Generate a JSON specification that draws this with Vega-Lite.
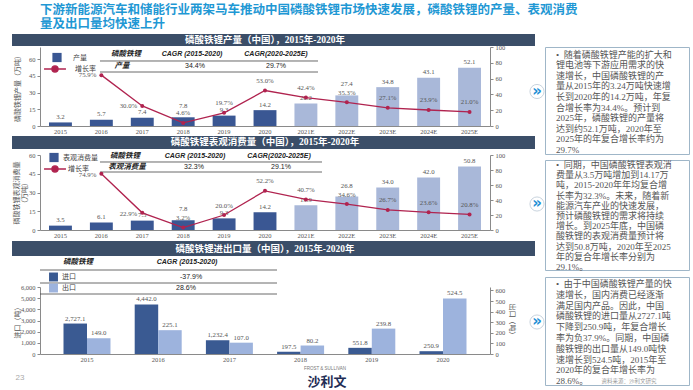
{
"$schema": "https://vega.github.io/schema/vega-lite/v6.json",
"background": "white",
"padding": {"left": 12, "top": 3, "right": 0, "bottom": 0},
"title": {"text": ["下游新能源汽车和储能行业两架马车推动中国磷酸铁锂市场快速发展，磷酸铁锂的产量、表观消费", "量及出口量均快速上升"], "anchor": "start", "font": "Noto Sans CJK SC", "fontSize": 12.5, "fontWeight": "bold", "color": "#1f98d4", "lineHeight": 14.5, "offset": 3, "frame": "group"},
"datasets": {
"p1": [
{"year": "2015", "value": 3.2, "growth": null, "s1": "产量", "s2": "增长率"},
{"year": "2016", "value": 5.7, "growth": 0.759, "s1": "产量", "s2": "增长率"},
{"year": "2017", "value": 7.4, "growth": 0.300, "s1": "产量", "s2": "增长率"},
{"year": "2018", "value": 7.8, "growth": 0.046, "s1": "产量", "s2": "增长率"},
{"year": "2019", "value": 9.3, "growth": 0.197, "s1": "产量", "s2": "增长率"},
{"year": "2020", "value": 14.2, "growth": 0.530, "s1": "产量", "s2": "增长率"},
{"year": "2021E", "value": 20.2, "growth": 0.424, "s1": "产量", "s2": "增长率"},
{"year": "2022E", "value": 27.4, "growth": 0.353, "s1": "产量", "s2": "增长率"},
{"year": "2023E", "value": 34.8, "growth": 0.271, "s1": "产量", "s2": "增长率"},
{"year": "2024E", "value": 43.1, "growth": 0.239, "s1": "产量", "s2": "增长率"},
{"year": "2025E", "value": 52.1, "growth": 0.210, "s1": "产量", "s2": "增长率"}
],
"p2": [
{"year": "2015", "value": 3.5, "growth": null, "s1": "表观消费量", "s2": "增长率"},
{"year": "2016", "value": 6.1, "growth": 0.749, "s1": "表观消费量", "s2": "增长率"},
{"year": "2017", "value": 7.5, "growth": 0.229, "s1": "表观消费量", "s2": "增长率"},
{"year": "2018", "value": 7.8, "growth": 0.032, "s1": "表观消费量", "s2": "增长率"},
{"year": "2019", "value": 9.3, "growth": 0.200, "s1": "表观消费量", "s2": "增长率"},
{"year": "2020", "value": 14.2, "growth": 0.522, "s1": "表观消费量", "s2": "增长率"},
{"year": "2021E", "value": 19.9, "growth": 0.407, "s1": "表观消费量", "s2": "增长率"},
{"year": "2022E", "value": 26.8, "growth": 0.346, "s1": "表观消费量", "s2": "增长率"},
{"year": "2023E", "value": 34.0, "growth": 0.267, "s1": "表观消费量", "s2": "增长率"},
{"year": "2024E", "value": 42.0, "growth": 0.236, "s1": "表观消费量", "s2": "增长率"},
{"year": "2025E", "value": 50.8, "growth": 0.208, "s1": "表观消费量", "s2": "增长率"}
],
"p3": [
{"year": "2015", "type": "进口", "value": 2727.1},
{"year": "2015", "type": "出口", "value": 149.0},
{"year": "2016", "type": "进口", "value": 4442.0},
{"year": "2016", "type": "出口", "value": 225.1},
{"year": "2017", "type": "进口", "value": 1232.4},
{"year": "2017", "type": "出口", "value": 107.0},
{"year": "2018", "type": "进口", "value": 197.5},
{"year": "2018", "type": "出口", "value": 80.2},
{"year": "2019", "type": "进口", "value": 551.8},
{"year": "2019", "type": "出口", "value": 239.8},
{"year": "2020", "type": "进口", "value": 250.9},
{"year": "2020", "type": "出口", "value": 524.5}
],
"a1": [{"t": "磷酸铁锂产量（中国），2015年-2020年"}, {"t": "磷酸铁锂"}, {"t": "CAGR (2015-2020)"}, {"t": "CAGR(2020-2025E)"}, {"t": "产量"}, {"t": "34.4%"}, {"t": "29.7%"}],
"a2": [{"t": "磷酸铁锂表观消费量（中国），2015年-2020年"}, {"t": "磷酸铁锂"}, {"t": "CAGR (2015-2020)"}, {"t": "CAGR(2020-2025E)"}, {"t": "表观消费量"}, {"t": "32.3%"}, {"t": "29.1%"}],
"a3": [{"t": "磷酸铁锂进出口量（中国），2015年-2020年"}, {"t": "磷酸铁锂"}, {"t": "CAGR (2015-2020)"}, {"t": "-37.9%"}, {"t": "28.6%"}]
},
"config": {
"view": {"stroke": null},
"font": "Noto Sans CJK SC",
"axis": {"labelFont": "Liberation Serif", "labelFontSize": 6.5, "labelColor": "#555", "domainColor": "#8a8a8a", "tickColor": "#8a8a8a", "grid": false, "titleFont": "Noto Sans CJK SC", "titleFontSize": 7, "titleFontWeight": "normal", "titleColor": "#555", "tickSize": 3, "labelPadding": 2, "titleLineHeight": 8},
"axisX": {"ticks": false, "labelAngle": 0},
"legend": {"labelFont": "Noto Sans CJK SC", "labelFontSize": 7, "labelColor": "#444", "padding": 0},
"text": {"font": "Liberation Serif", "fontSize": 6.8, "color": "#555"}
},
"spacing": -8,
"hconcat": [
{
"spacing": 1,
"resolve": {"scale": {"fill": "independent", "stroke": "independent"}},
"vconcat": [
{
 "width": 450, "height": 79,
 "data": {"name": "p1"},
 "layer": [
  {
   "data": {"name": "a1"},
   "layer": [
    {"transform": [{"filter": "datum.t == '磷酸铁锂产量（中国），2015年-2020年'"}], "mark": {"type": "rect", "fill": "#3b4e68"},
     "encoding": {"x": {"datum": -0.0622, "type": "quantitative", "scale": {"domain": [0, 1], "nice": false, "zero": false}, "axis": null}, "x2": {"datum": 1.1},
      "y": {"datum": 1.1646, "type": "quantitative", "scale": {"domain": [0, 1], "nice": false, "zero": false}, "axis": null}, "y2": {"datum": 1.0127}}},
    {"transform": [{"filter": "datum.t == '磷酸铁锂产量（中国），2015年-2020年'"}], "mark": {"type": "text", "color": "white", "fontSize": 9.5, "fontWeight": "bold", "font": "Liberation Serif, Noto Sans CJK SC"},
     "encoding": {"x": {"datum": 0.5, "type": "quantitative"}, "y": {"datum": 1.0886, "type": "quantitative"}, "text": {"field": "t"}}},
    {"transform": [{"filter": "datum.t == '磷酸铁锂产量（中国），2015年-2020年'"}], "mark": {"type": "rule", "color": "#444", "strokeWidth": 0.8},
     "encoding": {"x": {"datum": 0.1333, "type": "quantitative"}, "x2": {"datum": 0.6178}, "y": {"datum": 0.8228, "type": "quantitative"}}},
    {"transform": [{"filter": "datum.t == '磷酸铁锂产量（中国），2015年-2020年'"}], "mark": {"type": "rule", "color": "#444", "strokeWidth": 0.8},
     "encoding": {"x": {"datum": 0.1333, "type": "quantitative"}, "x2": {"datum": 0.6178}, "y": {"datum": 0.6835, "type": "quantitative"}}},
    {"transform": [{"filter": "datum.t == '磷酸铁锂'"}], "mark": {"type": "text", "font": "Noto Sans CJK SC", "fontSize": 7.5, "fontWeight": "bold", "fontStyle": "italic", "color": "#222"},
     "encoding": {"x": {"datum": 0.1911, "type": "quantitative"}, "y": {"datum": 0.9114, "type": "quantitative"}, "text": {"field": "t"}}},
    {"transform": [{"filter": "datum.t == 'CAGR (2015-2020)'"}], "mark": {"type": "text", "font": "Liberation Sans", "fontSize": 7, "fontWeight": "bold", "fontStyle": "italic", "color": "#222"},
     "encoding": {"x": {"datum": 0.3378, "type": "quantitative"}, "y": {"datum": 0.9114, "type": "quantitative"}, "text": {"field": "t"}}},
    {"transform": [{"filter": "datum.t == 'CAGR(2020-2025E)'"}], "mark": {"type": "text", "font": "Liberation Sans", "fontSize": 7, "fontWeight": "bold", "fontStyle": "italic", "color": "#222"},
     "encoding": {"x": {"datum": 0.5244, "type": "quantitative"}, "y": {"datum": 0.9114, "type": "quantitative"}, "text": {"field": "t"}}},
    {"transform": [{"filter": "datum.t == '产量'"}], "mark": {"type": "text", "font": "Noto Sans CJK SC", "fontSize": 7.5, "fontWeight": "bold", "fontStyle": "italic", "color": "#222"},
     "encoding": {"x": {"datum": 0.1822, "type": "quantitative"}, "y": {"datum": 0.7595, "type": "quantitative"}, "text": {"field": "t"}}},
    {"transform": [{"filter": "datum.t == '34.4%'"}], "mark": {"type": "text", "font": "Liberation Sans", "fontSize": 7, "color": "#222"},
     "encoding": {"x": {"datum": 0.3444, "type": "quantitative"}, "y": {"datum": 0.7595, "type": "quantitative"}, "text": {"field": "t"}}},
    {"transform": [{"filter": "datum.t == '29.7%'"}], "mark": {"type": "text", "font": "Liberation Sans", "fontSize": 7, "color": "#222"},
     "encoding": {"x": {"datum": 0.5244, "type": "quantitative"}, "y": {"datum": 0.7595, "type": "quantitative"}, "text": {"field": "t"}}}
   ]
  },
  {
   "encoding": {"x": {"field": "year", "type": "nominal", "title": null, "sort": null, "scale": {"domain": ["2015","2016","2017","2018","2019","2020","2021E","2022E","2023E","2024E","2025E"], "paddingInner": 0.44, "paddingOuter": 0.22}, "axis": {"orient": "bottom"}}},
   "layer": [
    {
     "encoding": {"y": {"field": "value", "type": "quantitative", "scale": {"domain": [0, 70.75], "nice": false}, "axis": {"orient": "left", "values": [0, 15, 30, 45, 60], "title": "磷酸铁锂产量（万吨）", "titlePadding": 8}}},
     "layer": [
      {"transform": [{"filter": "indexof(datum.year,'E') < 0"}], "mark": {"type": "bar"},
       "encoding": {"fill": {"field": "s1", "type": "nominal", "scale": {"range": ["#3a5793"]}, "legend": {"title": null, "orient": "none", "legendX": 12, "legendY": 5.5, "symbolType": "square", "symbolSize": 85, "labelOffset": 11, "symbolStrokeWidth": 0}}}},
      {"transform": [{"filter": "indexof(datum.year,'E') >= 0"}], "mark": {"type": "bar", "fill": "#a9b8d9"}},
      {"transform": [{"filter": "datum.year != '2018' && datum.year != '2022E'"}], "mark": {"type": "text", "dy": -5.5}, "encoding": {"text": {"field": "value", "format": ".1f"}}},
      {"transform": [{"filter": "datum.year == '2018' || datum.year == '2022E'"}], "mark": {"type": "text", "dy": -11.5}, "encoding": {"text": {"field": "value", "format": ".1f"}}}
     ]
    },
    {
     "transform": [{"filter": "isValid(datum.growth)"}],
     "encoding": {"y": {"field": "growth", "type": "quantitative", "scale": {"domain": [0, 1.179], "nice": false}, "axis": null}},
     "layer": [
      {"mark": {"type": "line", "strokeWidth": 1.3}, "encoding": {"stroke": {"field": "s2", "type": "nominal", "scale": {"range": ["#b0234f"]}, "legend": {"title": null, "orient": "none", "legendX": 3, "legendY": 10, "symbolType": "M-1,0L1,0M0.28,0A0.28,0.28,0,1,1,-0.28,0A0.28,0.28,0,1,1,0.28,0", "symbolSize": 480, "symbolStrokeWidth": 1.3, "symbolFillColor": "#b0234f", "labelOffset": 8}}}},
      {"mark": {"type": "point", "filled": true, "size": 16, "color": "#b0234f", "opacity": 1}},
      {"transform": [{"filter": "datum.year != '2016' && datum.year != '2017'"}], "mark": {"type": "text", "dy": -9.5}, "encoding": {"text": {"field": "growth", "format": ".1%"}}},
      {"transform": [{"filter": "datum.year == '2016' || datum.year == '2017'"}], "mark": {"type": "text", "align": "right", "dx": -5, "dy": 0}, "encoding": {"text": {"field": "growth", "format": ".1%"}}}
     ]
    },
    {"mark": {"type": "point", "opacity": 0}, "encoding": {"y": {"field": "value", "type": "quantitative", "scale": {"domain": [0, 100], "nice": false}, "axis": {"orient": "right", "values": [0, 20, 40, 60, 80, 100], "title": null}}}}
   ],
   "resolve": {"scale": {"y": "independent"}}
  }
 ],
 "resolve": {"scale": {"x": "independent", "y": "independent"}}
},
{
 "width": 450, "height": 75,
 "data": {"name": "p2"},
 "layer": [
  {
   "data": {"name": "a2"},
   "layer": [
    {"transform": [{"filter": "datum.t == '磷酸铁锂表观消费量（中国），2015年-2020年'"}], "mark": {"type": "rect", "fill": "#3b4e68"},
     "encoding": {"x": {"datum": -0.0622, "type": "quantitative", "scale": {"domain": [0, 1], "nice": false, "zero": false}, "axis": null}, "x2": {"datum": 1.1},
      "y": {"datum": 1.2533, "type": "quantitative", "scale": {"domain": [0, 1], "nice": false, "zero": false}, "axis": null}, "y2": {"datum": 1.08}}},
    {"transform": [{"filter": "datum.t == '磷酸铁锂表观消费量（中国），2015年-2020年'"}], "mark": {"type": "text", "color": "white", "fontSize": 9.5, "fontWeight": "bold", "font": "Liberation Serif, Noto Sans CJK SC"},
     "encoding": {"x": {"datum": 0.5, "type": "quantitative"}, "y": {"datum": 1.1667, "type": "quantitative"}, "text": {"field": "t"}}},
    {"transform": [{"filter": "datum.t == '磷酸铁锂表观消费量（中国），2015年-2020年'"}], "mark": {"type": "rule", "color": "#444", "strokeWidth": 0.8},
     "encoding": {"x": {"datum": 0.1333, "type": "quantitative"}, "x2": {"datum": 0.6267}, "y": {"datum": 0.9067, "type": "quantitative"}}},
    {"transform": [{"filter": "datum.t == '磷酸铁锂表观消费量（中国），2015年-2020年'"}], "mark": {"type": "rule", "color": "#444", "strokeWidth": 0.8},
     "encoding": {"x": {"datum": 0.1333, "type": "quantitative"}, "x2": {"datum": 0.6267}, "y": {"datum": 0.7733, "type": "quantitative"}}},
    {"transform": [{"filter": "datum.t == '磷酸铁锂'"}], "mark": {"type": "text", "font": "Noto Sans CJK SC", "fontSize": 7.5, "fontWeight": "bold", "fontStyle": "italic", "color": "#222"},
     "encoding": {"x": {"datum": 0.1889, "type": "quantitative"}, "y": {"datum": 0.9867, "type": "quantitative"}, "text": {"field": "t"}}},
    {"transform": [{"filter": "datum.t == 'CAGR (2015-2020)'"}], "mark": {"type": "text", "font": "Liberation Sans", "fontSize": 7, "fontWeight": "bold", "fontStyle": "italic", "color": "#222"},
     "encoding": {"x": {"datum": 0.3444, "type": "quantitative"}, "y": {"datum": 0.9867, "type": "quantitative"}, "text": {"field": "t"}}},
    {"transform": [{"filter": "datum.t == 'CAGR(2020-2025E)'"}], "mark": {"type": "text", "font": "Liberation Sans", "fontSize": 7, "fontWeight": "bold", "fontStyle": "italic", "color": "#222"},
     "encoding": {"x": {"datum": 0.5311, "type": "quantitative"}, "y": {"datum": 0.9867, "type": "quantitative"}, "text": {"field": "t"}}},
    {"transform": [{"filter": "datum.t == '表观消费量'"}], "mark": {"type": "text", "font": "Noto Sans CJK SC", "fontSize": 7.5, "fontWeight": "bold", "fontStyle": "italic", "color": "#222"},
     "encoding": {"x": {"datum": 0.1933, "type": "quantitative"}, "y": {"datum": 0.84, "type": "quantitative"}, "text": {"field": "t"}}},
    {"transform": [{"filter": "datum.t == '32.3%'"}], "mark": {"type": "text", "font": "Liberation Sans", "fontSize": 7, "color": "#222"},
     "encoding": {"x": {"datum": 0.3422, "type": "quantitative"}, "y": {"datum": 0.84, "type": "quantitative"}, "text": {"field": "t"}}},
    {"transform": [{"filter": "datum.t == '29.1%'"}], "mark": {"type": "text", "font": "Liberation Sans", "fontSize": 7, "color": "#222"},
     "encoding": {"x": {"datum": 0.5356, "type": "quantitative"}, "y": {"datum": 0.84, "type": "quantitative"}, "text": {"field": "t"}}}
   ]
  },
  {
   "encoding": {"x": {"field": "year", "type": "nominal", "title": null, "sort": null, "scale": {"domain": ["2015","2016","2017","2018","2019","2020","2021E","2022E","2023E","2024E","2025E"], "paddingInner": 0.44, "paddingOuter": 0.22}, "axis": {"orient": "bottom"}}},
   "layer": [
    {
     "encoding": {"y": {"field": "value", "type": "quantitative", "scale": {"domain": [0, 60], "nice": false}, "axis": {"orient": "left", "values": [0, 15, 30, 45, 60], "title": ["磷酸铁锂表观消费量", "（万吨）"], "titlePadding": 1}}},
     "layer": [
      {"transform": [{"filter": "indexof(datum.year,'E') < 0"}], "mark": {"type": "bar"},
       "encoding": {"fill": {"field": "s1", "type": "nominal", "scale": {"range": ["#3a5793"]}, "legend": {"title": null, "orient": "none", "legendX": 9, "legendY": -2.5, "symbolType": "square", "symbolSize": 85, "labelOffset": 4, "symbolStrokeWidth": 0}}}},
      {"transform": [{"filter": "indexof(datum.year,'E') >= 0"}], "mark": {"type": "bar", "fill": "#a9b8d9"}},
      {"transform": [{"filter": "datum.year != '2018' && datum.year != '2022E'"}], "mark": {"type": "text", "dy": -5.5}, "encoding": {"text": {"field": "value", "format": ".1f"}}},
      {"transform": [{"filter": "datum.year == '2018' || datum.year == '2022E'"}], "mark": {"type": "text", "dy": -11}, "encoding": {"text": {"field": "value", "format": ".1f"}}}
     ]
    },
    {
     "transform": [{"filter": "isValid(datum.growth)"}],
     "encoding": {"y": {"field": "growth", "type": "quantitative", "scale": {"domain": [0, 1], "nice": false}, "axis": {"orient": "right", "values": [0, 0.2, 0.4, 0.6, 0.8, 1], "labelExpr": "format(datum.value*100,'d')", "title": null}}},
     "layer": [
      {"mark": {"type": "line", "strokeWidth": 1.3}, "encoding": {"stroke": {"field": "s2", "type": "nominal", "scale": {"range": ["#b0234f"]}, "legend": {"title": null, "orient": "none", "legendX": 3, "legendY": 2, "symbolType": "M-1,0L1,0M0.28,0A0.28,0.28,0,1,1,-0.28,0A0.28,0.28,0,1,1,0.28,0", "symbolSize": 480, "symbolStrokeWidth": 1.3, "symbolFillColor": "#b0234f", "labelOffset": 1}}}},
      {"mark": {"type": "point", "filled": true, "size": 16, "color": "#b0234f", "opacity": 1}},
      {"transform": [{"filter": "datum.year != '2016' && datum.year != '2017'"}], "mark": {"type": "text", "dy": -9.5}, "encoding": {"text": {"field": "growth", "format": ".1%"}}},
      {"transform": [{"filter": "datum.year == '2016' || datum.year == '2017'"}], "mark": {"type": "text", "align": "right", "dx": -5, "dy": 1}, "encoding": {"text": {"field": "growth", "format": ".1%"}}}
     ]
    }
   ],
   "resolve": {"scale": {"y": "independent"}}
  }
 ],
 "resolve": {"scale": {"x": "independent", "y": "independent"}}
},
{
 "width": 450, "height": 67,
 "data": {"name": "p3"},
 "layer": [
  {
   "data": {"name": "a3"},
   "layer": [
    {"transform": [{"filter": "datum.t == '磷酸铁锂进出口量（中国），2015年-2020年'"}], "mark": {"type": "rect", "fill": "#3b4e68"},
     "encoding": {"x": {"datum": -0.0622, "type": "quantitative", "scale": {"domain": [0, 1], "nice": false, "zero": false}, "axis": null}, "x2": {"datum": 1.1},
      "y": {"datum": 1.6866, "type": "quantitative", "scale": {"domain": [0, 1], "nice": false, "zero": false}, "axis": null}, "y2": {"datum": 1.4627}}},
    {"transform": [{"filter": "datum.t == '磷酸铁锂进出口量（中国），2015年-2020年'"}], "mark": {"type": "text", "color": "white", "fontSize": 9.5, "fontWeight": "bold", "font": "Liberation Serif, Noto Sans CJK SC"},
     "encoding": {"x": {"datum": 0.5, "type": "quantitative"}, "y": {"datum": 1.5746, "type": "quantitative"}, "text": {"field": "t"}}},
    {"transform": [{"filter": "datum.t == '磷酸铁锂进出口量（中国），2015年-2020年'"}], "mark": {"type": "rule", "color": "#444", "strokeWidth": 0.8},
     "encoding": {"x": {"datum": 0, "type": "quantitative"}, "x2": {"datum": 0.5267}, "y": {"datum": 1.2537, "type": "quantitative"}}},
    {"transform": [{"filter": "datum.t == '磷酸铁锂进出口量（中国），2015年-2020年'"}], "mark": {"type": "rule", "color": "#444", "strokeWidth": 0.8},
     "encoding": {"x": {"datum": 0, "type": "quantitative"}, "x2": {"datum": 0.5267}, "y": {"datum": 1.0597, "type": "quantitative"}}},
    {"transform": [{"filter": "datum.t == '磷酸铁锂进出口量（中国），2015年-2020年'"}], "mark": {"type": "rule", "color": "#444", "strokeWidth": 0.8},
     "encoding": {"x": {"datum": 0, "type": "quantitative"}, "x2": {"datum": 0.5267}, "y": {"datum": 0.8955, "type": "quantitative"}}},
    {"transform": [{"filter": "datum.t == '磷酸铁锂'"}], "mark": {"type": "text", "font": "Noto Sans CJK SC", "fontSize": 7.5, "fontWeight": "bold", "fontStyle": "italic", "color": "#222"},
     "encoding": {"x": {"datum": 0.0844, "type": "quantitative"}, "y": {"datum": 1.3731, "type": "quantitative"}, "text": {"field": "t"}}},
    {"transform": [{"filter": "datum.t == 'CAGR (2015-2020)'"}], "mark": {"type": "text", "font": "Liberation Sans", "fontSize": 7, "fontWeight": "bold", "fontStyle": "italic", "color": "#222"},
     "encoding": {"x": {"datum": 0.3267, "type": "quantitative"}, "y": {"datum": 1.3731, "type": "quantitative"}, "text": {"field": "t"}}},
    {"transform": [{"filter": "datum.t == '-37.9%'"}], "mark": {"type": "text", "font": "Liberation Sans", "fontSize": 7, "color": "#222"},
     "encoding": {"x": {"datum": 0.3356, "type": "quantitative"}, "y": {"datum": 1.1493, "type": "quantitative"}, "text": {"field": "t"}}},
    {"transform": [{"filter": "datum.t == '28.6%'"}], "mark": {"type": "text", "font": "Liberation Sans", "fontSize": 7, "color": "#222"},
     "encoding": {"x": {"datum": 0.3244, "type": "quantitative"}, "y": {"datum": 0.9851, "type": "quantitative"}, "text": {"field": "t"}}}
   ]
  },
  {
   "encoding": {"x": {"field": "year", "type": "nominal", "title": null, "sort": null, "scale": {"domain": ["2015","2016","2017","2018","2019","2020"], "paddingInner": 0.34, "paddingOuter": 0.33}, "axis": {"orient": "bottom"}}},
   "layer": [
    {
     "transform": [{"filter": "datum.type == '进口'"}],
     "encoding": {"y": {"field": "value", "type": "quantitative", "scale": {"domain": [0, 6000], "nice": false}, "axis": {"orient": "left", "values": [0, 1000, 2000, 3000, 4000, 5000, 6000], "format": ",.0f", "title": "进口（吨）", "titlePadding": 0}},
      "xOffset": {"field": "type", "type": "nominal", "scale": {"domain": ["进口", "出口"]}}},
     "layer": [
      {"mark": {"type": "bar"},
       "encoding": {"fill": {"field": "type", "type": "nominal", "scale": {"domain": ["进口", "出口"], "range": ["#3a5a92", "#9db3dd"]}, "legend": {"title": null, "orient": "none", "legendX": 9, "legendY": -14.5, "symbolType": "square", "symbolSize": 80, "labelOffset": 4, "rowPadding": 2, "symbolStrokeWidth": 0}}}},
      {"mark": {"type": "text", "dy": -5}, "encoding": {"text": {"field": "value", "format": ",.1f"}}}
     ]
    },
    {
     "transform": [{"filter": "datum.type == '出口'"}],
     "encoding": {"y": {"field": "value", "type": "quantitative", "scale": {"domain": [0, 633], "nice": false}, "axis": {"orient": "right", "values": [0, 100, 200, 300, 400, 500, 600], "title": "出口（吨）", "titlePadding": 4}},
      "xOffset": {"field": "type", "type": "nominal", "scale": {"domain": ["进口", "出口"]}}},
     "layer": [
      {"mark": {"type": "bar"}, "encoding": {"fill": {"field": "type", "type": "nominal", "scale": {"domain": ["进口", "出口"], "range": ["#3a5a92", "#9db3dd"]}, "legend": {"title": null, "orient": "none", "legendX": 9, "legendY": -14.5, "symbolType": "square", "symbolSize": 80, "labelOffset": 4, "rowPadding": 2, "symbolStrokeWidth": 0}}}},
      {"mark": {"type": "text", "dy": -5}, "encoding": {"text": {"field": "value", "format": ",.1f"}}}
     ]
    }
   ],
   "resolve": {"scale": {"y": "independent"}}
  }
 ],
 "resolve": {"scale": {"x": "independent", "y": "independent"}}
},
{"width": 450, "height": 20,
 "data": {"values": [{"a": "FROST & SULLIVAN", "b": "沙利文", "c": "23"}]},
 "layer": [
  {"mark": {"type": "text", "dx": 60, "dy": -5, "fontSize": 4.5, "letterSpacing": 1.2, "font": "Liberation Sans", "color": "#777"}, "encoding": {"text": {"field": "a"}}},
  {"mark": {"type": "text", "dx": 62, "dy": 8, "fontSize": 13, "fontWeight": "bold", "letterSpacing": 5, "font": "Noto Sans CJK SC", "color": "#1f2d55"}, "encoding": {"text": {"field": "b"}}},
  {"mark": {"type": "text", "dx": -245, "dy": 4, "fontSize": 8, "font": "Liberation Sans", "color": "#aaa"}, "encoding": {"text": {"field": "c"}}}
 ]}
]
},
{
"spacing": 3,
"vconcat": [
{"width": 144, "height": 107,
 "view": {"stroke": "#9fb6c8", "strokeWidth": 1, "fill": "white"},
 "data": {"values": [{"c": "»", "lines": ["•\u2002随着磷酸铁锂产能的扩大和", "\u2002\u2002锂电池等下游应用需求的快", "\u2002\u2002速增长，中国磷酸铁锂的产", "\u2002\u2002量从2015年的3.24万吨快速增", "\u2002\u2002长到2020年的14.2万吨，年复", "\u2002\u2002合增长率为34.4%。预计到", "\u2002\u20022025年，磷酸铁锂的产量将", "\u2002\u2002达到约52.1万吨，2020年至", "\u2002\u20022025年的年复合增长率约为", "\u2002\u200229.7%"]}]},
 "layer": [
  {"mark": {"type": "text", "align": "left", "baseline": "top", "dx": -61, "dy": -50, "fontSize": 9, "lineHeight": 10.6, "font": "Liberation Serif, Noto Sans CJK SC", "color": "#555"}, "encoding": {"text": {"field": "lines"}}},
  {"mark": {"type": "point", "shape": "circle", "filled": true, "fill": "white", "stroke": "#c9d4de", "strokeWidth": 1, "size": 200, "opacity": 1, "xOffset": -80, "yOffset": -9}, "encoding": {}},
  {"mark": {"type": "text", "dx": -80, "dy": -10, "fontSize": 15, "fontWeight": "bold", "font": "DejaVu Sans", "color": "#1e8fd5"}, "encoding": {"text": {"field": "c"}}}
 ]},
{"width": 144, "height": 110,
 "view": {"stroke": "#9fb6c8", "strokeWidth": 1, "fill": "white"},
 "data": {"values": [{"c": "»", "lines": ["•\u2002同期，中国磷酸铁锂表观消", "\u2002\u2002费量从3.5万吨增加到14.17万", "\u2002\u2002吨，2015-2020年年均复合增", "\u2002\u2002长率为32.3%。未来，随着新", "\u2002\u2002能源汽车产业的快速发展，", "\u2002\u2002预计磷酸铁锂的需求将持续", "\u2002\u2002增长。到2025年底，中国磷", "\u2002\u2002酸铁锂的表观消费量预计将", "\u2002\u2002达到50.8万吨，2020年至2025", "\u2002\u2002年的复合年增长率分别为", "\u2002\u200229.1%。"]}]},
 "layer": [
  {"mark": {"type": "text", "align": "left", "baseline": "top", "dx": -61, "dy": -54, "fontSize": 9, "lineHeight": 10.2, "font": "Liberation Serif, Noto Sans CJK SC", "color": "#555"}, "encoding": {"text": {"field": "lines"}}},
  {"mark": {"type": "point", "shape": "circle", "filled": true, "fill": "white", "stroke": "#c9d4de", "strokeWidth": 1, "size": 200, "opacity": 1, "xOffset": -80, "yOffset": -11}, "encoding": {}},
  {"mark": {"type": "text", "dx": -80, "dy": -12, "fontSize": 15, "fontWeight": "bold", "font": "DejaVu Sans", "color": "#1e8fd5"}, "encoding": {"text": {"field": "c"}}}
 ]},
{"width": 144, "height": 108,
 "view": {"stroke": "#9fb6c8", "strokeWidth": 1, "fill": "white"},
 "data": {"values": [{"c": "»", "s": "资料来源：沙利文研究", "lines": ["•\u2002由于中国磷酸铁锂产量的快", "\u2002\u2002速增长，国内消费已经逐渐", "\u2002\u2002满足国内产品。因此，中国", "\u2002\u2002磷酸铁锂的进口量从2727.1吨", "\u2002\u2002下降到250.9吨，年复合增长", "\u2002\u2002率为负37.9%。同期，中国磷", "\u2002\u2002酸铁锂的出口量从149.0吨快", "\u2002\u2002速增长到524.5吨，2015年至", "\u2002\u20022020年的复合年增长率为", "\u2002\u200228.6%。"]}]},
 "layer": [
  {"mark": {"type": "text", "align": "left", "baseline": "top", "dx": -61, "dy": -51, "fontSize": 9, "lineHeight": 10.8, "font": "Liberation Serif, Noto Sans CJK SC", "color": "#555"}, "encoding": {"text": {"field": "lines"}}},
  {"mark": {"type": "point", "shape": "circle", "filled": true, "fill": "white", "stroke": "#c9d4de", "strokeWidth": 1, "size": 200, "opacity": 1, "xOffset": -80, "yOffset": -9}, "encoding": {}},
  {"mark": {"type": "text", "dx": -80, "dy": -10, "fontSize": 15, "fontWeight": "bold", "font": "DejaVu Sans", "color": "#1e8fd5"}, "encoding": {"text": {"field": "c"}}},
  {"mark": {"type": "text", "dx": 12, "dy": 50, "fontSize": 5.5, "font": "Noto Sans CJK SC", "color": "#999"}, "encoding": {"text": {"field": "s"}}}
 ]}
]
}
]
}
